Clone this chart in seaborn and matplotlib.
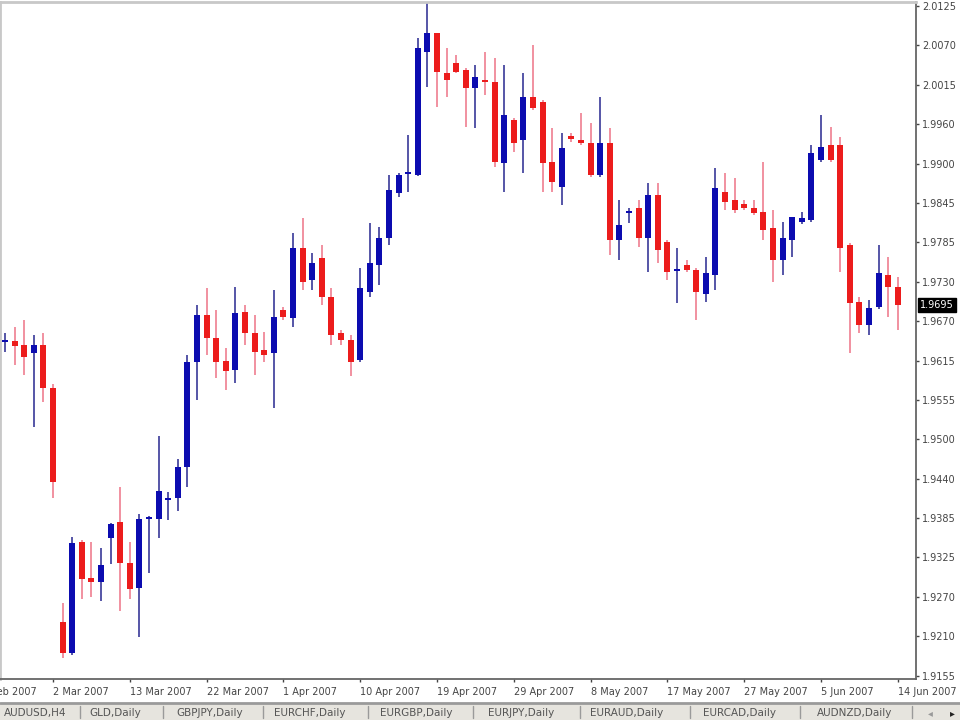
import numpy as np
import pandas as pd
import seaborn as sns
import matplotlib.pyplot as plt
from matplotlib.patches import Rectangle

# daily candles, GBP/USD-like pair
opens = [1.9641, 1.9643, 1.9637, 1.9625, 1.9637, 1.9574, 1.9233, 1.9188, 1.9350, 1.9297,
         1.9292, 1.9356, 1.9379, 1.9319, 1.9283, 1.9383, 1.9383, 1.9410, 1.9413, 1.9459,
         1.9611, 1.9680, 1.9647, 1.9613, 1.9600, 1.9685, 1.9654, 1.9629, 1.9625, 1.9688,
         1.9676, 1.9778, 1.9731, 1.9763, 1.9707, 1.9654, 1.9644, 1.9615, 1.9714, 1.9753,
         1.9792, 1.9858, 1.9886, 1.9884, 2.0063, 2.0091, 2.0033, 2.0047, 2.0037, 2.0011,
         2.0023, 2.0020, 1.9902, 1.9964, 1.9935, 1.9998, 1.9990, 1.9903, 1.9867, 1.9941,
         1.9935, 1.9931, 1.9884, 1.9931, 1.9789, 1.9829, 1.9836, 1.9793, 1.9855, 1.9786,
         1.9744, 1.9753, 1.9746, 1.9710, 1.9739, 1.9859, 1.9848, 1.9842, 1.9836, 1.9830,
         1.9807, 1.9760, 1.9789, 1.9816, 1.9819, 1.9906, 1.9928, 1.9928, 1.9782, 1.9699,
         1.9666, 1.9692, 1.9739, 1.9721]
highs = [1.9654, 1.9662, 1.9673, 1.9651, 1.9654, 1.9580, 1.9261, 1.9357, 1.9353, 1.9350,
         1.9341, 1.9377, 1.9430, 1.9350, 1.9391, 1.9388, 1.9504, 1.9423, 1.9471, 1.9622,
         1.9695, 1.9720, 1.9688, 1.9632, 1.9721, 1.9695, 1.9680, 1.9656, 1.9717, 1.9692,
         1.9799, 1.9822, 1.9771, 1.9782, 1.9720, 1.9659, 1.9651, 1.9748, 1.9814, 1.9808,
         1.9884, 1.9887, 1.9942, 2.0084, 2.0142, 2.0091, 2.0069, 2.0059, 2.0040, 2.0044,
         2.0063, 2.0055, 2.0044, 1.9967, 2.0033, 2.0073, 1.9993, 1.9953, 1.9945, 1.9945,
         1.9975, 1.9960, 1.9998, 1.9953, 1.9848, 1.9836, 1.9848, 1.9873, 1.9873, 1.9789,
         1.9778, 1.9760, 1.9748, 1.9765, 1.9894, 1.9887, 1.9880, 1.9848, 1.9848, 1.9903,
         1.9833, 1.9816, 1.9823, 1.9830, 1.9928, 1.9972, 1.9954, 1.9940, 1.9785, 1.9707,
         1.9702, 1.9782, 1.9765, 1.9736]
lows = [1.9626, 1.9608, 1.9593, 1.9517, 1.9554, 1.9414, 1.9181, 1.9185, 1.9266, 1.9270,
        1.9263, 1.9318, 1.9249, 1.9267, 1.9211, 1.9305, 1.9356, 1.9382, 1.9394, 1.9429,
        1.9557, 1.9622, 1.9589, 1.9571, 1.9581, 1.9637, 1.9593, 1.9612, 1.9545, 1.9673,
        1.9663, 1.9717, 1.9717, 1.9695, 1.9637, 1.9637, 1.9592, 1.9612, 1.9707, 1.9724,
        1.9782, 1.9852, 1.9859, 1.9883, 2.0012, 1.9983, 1.9998, 2.0033, 1.9954, 1.9953,
        2.0001, 1.9896, 1.9859, 1.9918, 1.9887, 1.9979, 1.9859, 1.9859, 1.9841, 1.9932,
        1.9928, 1.9881, 1.9881, 1.9768, 1.9760, 1.9814, 1.9779, 1.9743, 1.9756, 1.9731,
        1.9698, 1.9743, 1.9673, 1.9699, 1.9717, 1.9833, 1.9829, 1.9833, 1.9826, 1.9789,
        1.9728, 1.9739, 1.9765, 1.9813, 1.9816, 1.9903, 1.9903, 1.9743, 1.9625, 1.9654,
        1.9651, 1.9689, 1.9677, 1.9659]
closes = [1.9643, 1.9635, 1.9619, 1.9637, 1.9574, 1.9437, 1.9188, 1.9348, 1.9295, 1.9292,
          1.9316, 1.9376, 1.9319, 1.9281, 1.9383, 1.9386, 1.9424, 1.9413, 1.9459, 1.9612,
          1.9680, 1.9647, 1.9612, 1.9599, 1.9683, 1.9654, 1.9626, 1.9622, 1.9677, 1.9677,
          1.9778, 1.9728, 1.9756, 1.9707, 1.9651, 1.9644, 1.9612, 1.9720, 1.9756, 1.9793,
          1.9862, 1.9884, 1.9889, 2.0069, 2.0091, 2.0034, 2.0023, 2.0034, 2.0011, 2.0027,
          2.0020, 1.9903, 1.9972, 1.9931, 1.9998, 1.9982, 1.9902, 1.9874, 1.9924, 1.9937,
          1.9931, 1.9884, 1.9931, 1.9789, 1.9811, 1.9832, 1.9792, 1.9855, 1.9775, 1.9743,
          1.9747, 1.9746, 1.9713, 1.9741, 1.9865, 1.9845, 1.9833, 1.9836, 1.9829, 1.9804,
          1.9760, 1.9793, 1.9823, 1.9822, 1.9916, 1.9925, 1.9906, 1.9778, 1.9698, 1.9666,
          1.9691, 1.9741, 1.9721, 1.9695]

date_labels = ['21 Feb 2007', '2 Mar 2007', '13 Mar 2007', '22 Mar 2007', '1 Apr 2007',
               '10 Apr 2007', '19 Apr 2007', '29 Apr 2007', '8 May 2007', '17 May 2007',
               '27 May 2007', '5 Jun 2007', '14 Jun 2007']
price_labels = ['1.9155', '1.9210', '1.9270', '1.9325', '1.9385', '1.9440', '1.9500',
                '1.9555', '1.9615', '1.9670', '1.9730', '1.9785', '1.9845', '1.9900',
                '1.9960', '2.0015', '2.0070', '2.0125']
tabs = ['AUDUSD,H4', 'GLD,Daily', 'GBPJPY,Daily', 'EURCHF,Daily', 'EURGBP,Daily',
        'EURJPY,Daily', 'EURAUD,Daily', 'EURCAD,Daily', 'AUDNZD,Daily']

df = pd.DataFrame({'open': opens, 'high': highs, 'low': lows, 'close': closes})
df['bar'] = np.arange(len(df))
df['up'] = df['close'] > df['open']

sns.set_theme(style='white')
plt.rcParams['font.family'] = ['DejaVu Sans']

fig = plt.figure(figsize=(9.6, 7.2), dpi=100)
fig.patch.set_facecolor('white')
ax = fig.add_axes([0, 41 / 720, 916 / 960, 677 / 720])
ax.set_facecolor('white')

styles = [(True, '#0c0cb0', '#4848a0'), (False, '#ec1c1c', '#f08898')]
for up, body_col, wick_col in styles:
    d = df[df['up'] == up]
    ax.vlines(d['bar'], d['low'], d['high'], color=wick_col, lw=1.3, zorder=1)
    height = (d['close'] - d['open']).abs().clip(lower=0.0003)
    bottom = d[['open', 'close']].min(axis=1)
    ax.bar(d['bar'], height, bottom=bottom, width=0.62, color=body_col,
           linewidth=0, zorder=2)

ax.set_xlim(-0.52, 94.9)
ax.set_ylim(1.9150, 2.0136)

# price axis on the right
ax.yaxis.tick_right()
ax.set_yticks(np.linspace(1.9155, 2.0130, len(price_labels)))
ax.set_yticklabels(price_labels)
ax.tick_params(axis='y', direction='out', length=2.5, width=1, pad=2,
               labelsize=7, colors='#444444', right=True, left=False)

# date axis, labels start at the tick like the terminal does
ax.set_xticks(np.arange(5, len(df), 8))
ax.set_xticklabels(date_labels[1:])
for lbl in ax.get_xticklabels():
    lbl.set_ha('left')
ax.tick_params(axis='x', direction='out', length=2.5, width=1, pad=3,
               labelsize=7, colors='#444444', bottom=True)
ax.annotate(date_labels[0], xy=(-3, 0), xycoords=('data', 'axes fraction'),
            xytext=(0, -5.5), textcoords='offset points', ha='left', va='top',
            fontsize=7, color='#444444', annotation_clip=False)

for side in ['right', 'bottom']:
    ax.spines[side].set_color('#666666')
    ax.spines[side].set_linewidth(1.3)
for side in ['left', 'top']:
    ax.spines[side].set_color('#c8c8c8')
    ax.spines[side].set_linewidth(2)

# last price marker
ax.annotate(f'{closes[-1]:.4f}', xy=(1, closes[-1]), xycoords=('axes fraction', 'data'),
            xytext=(3, 0), textcoords='offset points', ha='left', va='center',
            fontsize=7, color='white', annotation_clip=False,
            bbox=dict(boxstyle='square,pad=0.2', fc='black', ec='black'))

# symbol tab strip at the bottom
fig.patches.append(Rectangle((0, 0), 1, 16 / 720, transform=fig.transFigure,
                             facecolor='#e6e4de', edgecolor='none', zorder=0))
fig.add_artist(plt.Line2D([0, 1], [17 / 720, 17 / 720], transform=fig.transFigure,
                          color='#9a9a9a', lw=2))
tab_x = [35, 115, 210, 310, 416, 521, 627, 740, 855]
sep_x = [80, 163, 263, 368, 473, 580, 690, 800, 912]
for name, x in zip(tabs, tab_x):
    fig.text(x / 960, 7 / 720, name, ha='center', va='center', fontsize=7.5,
             color='#555555')
for x in sep_x:
    fig.add_artist(plt.Line2D([x / 960, x / 960], [2 / 720, 14 / 720],
                              transform=fig.transFigure, color='#9a9a9a', lw=1))
fig.text(930 / 960, 7 / 720, '\u25c2', ha='center', va='center', fontsize=7, color='#999999')
fig.text(952 / 960, 7 / 720, '\u25b8', ha='center', va='center', fontsize=7, color='#222222')

fig.savefig('out.png', dpi=100)
